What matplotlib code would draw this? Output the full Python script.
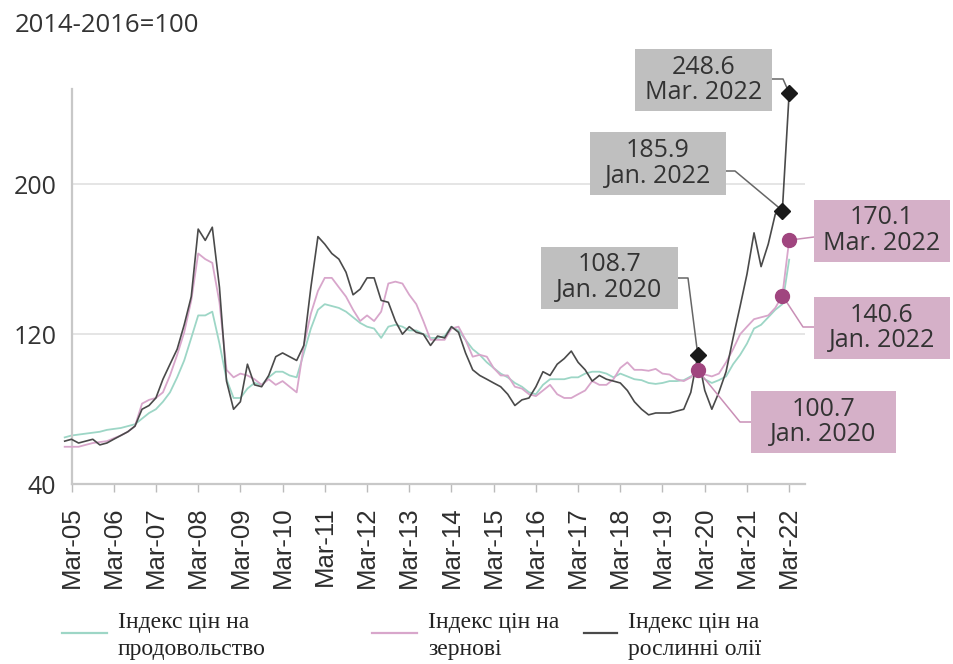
import numpy as np
import pandas as pd
import matplotlib
matplotlib.use("Agg")
import matplotlib.pyplot as plt
import matplotlib.dates as mdates
from matplotlib.lines import Line2D
from matplotlib.patches import Rectangle

# bi-monthly readings, Jan 2005 .. Mar 2022 (2014-2016 = 100)
dates = pd.date_range("2005-01-01", "2022-03-01", freq="2MS")

food = [65, 66, 66.5, 67, 67.5, 68,
        69, 69.5, 70, 71, 72, 75,
        78, 80, 84, 89, 97, 106,
        118, 130, 130, 132, 115, 96,
        86, 86, 91, 94, 93, 97,
        100, 100, 98, 97, 110, 123,
        133, 136, 135, 134, 132, 129,
        126, 124, 123, 118, 124, 125,
        124, 122, 122, 120, 118, 118,
        119, 124, 122, 117, 112, 109,
        105, 102, 99, 97, 94, 92,
        89, 88, 93, 96, 96, 96,
        97, 97, 99, 100, 100, 99,
        97, 99, 97.5, 96, 95.5, 94,
        93.5, 94, 95, 95, 95.5, 97.5,
        100, 96, 94, 95.5, 97.5, 104,
        109, 115, 123, 125, 129, 133,
        136, 159.7]

cereals = [60, 60, 60, 61, 62, 62.5,
           63, 64.5, 66, 68, 71, 83,
           85, 86, 89, 98, 109, 121,
           138, 163, 160, 158, 137, 101,
           97, 99, 98, 96, 93, 96,
           93, 95, 92, 89, 114, 131,
           143, 150, 150, 145, 140, 133,
           127, 130, 127, 132, 147, 148,
           147, 141, 136, 127, 117, 117,
           117, 123, 124, 117, 108, 109,
           108, 102, 98, 98, 92, 91,
           88, 87, 90, 93, 88, 86,
           86, 88, 90, 95, 93, 93,
           96, 102, 105, 101, 101, 100.5,
           101.5, 99, 98.5, 96, 95, 97,
           100.7, 98.5, 97.5, 99, 105, 112,
           120, 124, 128, 129, 130, 134,
           140.6, 170.1]

oils = [63, 64, 62, 63, 64, 61,
        62, 64, 66, 68, 71, 80,
        82, 86, 96, 104, 112, 125,
        140, 176, 170, 177, 145, 95,
        80, 84, 104, 93, 92, 98,
        108, 110, 108, 106, 114, 145,
        172, 168, 163, 160, 153, 141,
        144, 150, 150, 138, 137, 127,
        120, 124, 121, 120, 114, 119,
        118, 124, 121, 110, 101, 98,
        96, 94, 92, 88, 82, 85,
        86, 92, 100, 98, 104, 107,
        111, 105, 101, 95, 98, 96,
        95, 94, 90, 84, 80, 77,
        78, 78, 78, 79, 80, 89,
        108.7, 90, 80, 89, 100, 118,
        135, 152, 174, 156, 168, 184,
        185.9, 248.6]

tick_dates = pd.date_range("2005-03-01", "2022-03-01", freq="12MS")
tick_labels = [d.strftime("%b-%y") for d in tick_dates]
y_ticks = [40, 120, 200]

labels = ["Індекс цін на\nпродовольство", "Індекс цін на\nзернові", "Індекс цін на\nрослинні олії"]
colors = ["#9dd6c6", "#d8a6cb", "#4a4a4a"]

marked_dates = ["2020-01-01", "2022-01-01", "2022-03-01"]

W, H = 954, 664

def fx(x):
    return x / W

def fy(y):
    return 1 - y / H

fig = plt.figure(figsize=(9.54, 6.64), dpi=100)
fig.patch.set_facecolor("white")
ax = fig.add_axes([fx(62.5), fy(484.3), fx(805) - fx(62.5), fy(89.3) - fy(484.3)])
ax.patch.set_visible(False)

x0 = pd.Timestamp("2005-03-01")
xmin, xmax = pd.Timestamp("2004-12-13"), pd.Timestamp("2022-07-16")

ax.hlines(y_ticks[1:], x0, xmax, color="#dedede", lw=1.1, zorder=1)
ax.plot(dates, food, color=colors[0], lw=1.3, zorder=2)
ax.plot(dates, cereals, color=colors[1], lw=1.3, zorder=3)
ax.plot(dates, oils, color=colors[2], lw=1.2, zorder=4)

ax.set_xlim(xmin, xmax)
ax.set_ylim(40, 250.5)

for s in ["top", "right"]:
    ax.spines[s].set_visible(False)
ax.spines["left"].set_position(("data", mdates.date2num(x0)))
ax.spines["left"].set_color("#c8c8c8")
ax.spines["left"].set_linewidth(1.6)
ax.spines["bottom"].set_color("#c8c8c8")
ax.spines["bottom"].set_linewidth(1.6)
ax.spines["bottom"].set_bounds(mdates.date2num(x0), mdates.date2num(xmax))

ax.set_xticks(tick_dates)
ax.set_xticklabels(tick_labels, rotation=90, fontsize=18.5, family="Liberation Sans", color="#2e2e2e")
ax.set_yticks(y_ticks)
ax.set_yticklabels([str(v) for v in y_ticks], fontsize=18, family="Open Sans", color="#333333")
ax.tick_params(axis="x", length=6, width=1, color="#bbbbbb", pad=10)
ax.tick_params(axis="y", length=0, pad=11)

fig.text(fx(15), fy(26), "2014-2016=100", fontsize=18.5, family="Open Sans",
         color="#333333", ha="left", va="center")

# highlighted points
idx = [dates.get_loc(pd.Timestamp(d)) for d in marked_dates]
oil_pts = [(dates[i], oils[i]) for i in idx]
cer_pts = [(dates[i], cereals[i]) for i in idx]
ax.plot([p[0] for p in oil_pts], [p[1] for p in oil_pts], "D", color="#1a1a1a",
        ms=8, zorder=8, clip_on=False)
ax.plot([p[0] for p in cer_pts], [p[1] for p in cer_pts], "o", color="#a0457f",
        ms=10, zorder=8, clip_on=False)

# callout boxes: (centre x, centre y, width, height, elbow points) in reference pixels
oil_boxes = [(609.5, 277.5, 137, 62, [(678, 278), (688, 278)]),
             (658, 163.5, 136, 62, [(726, 171), (735, 171)]),
             (703.5, 80, 137, 62, [(772, 79), (783, 79)])]
cer_boxes = [(823.5, 422, 145, 62, [(751, 422), (740, 422)]),
             (882, 328, 136, 62, [(814, 327), (803, 327)]),
             (882, 230.5, 136, 62, [(814, 237)])]

fig.canvas.draw()

def callout(pt, box, fc, lc):
    cx, cy, w, h, elbow = box
    fig.add_artist(Rectangle((fx(cx - w / 2), fy(cy + h / 2)), w / W, h / H,
                             transform=fig.transFigure, fc=fc, ec="none", zorder=6))
    d, v = pt
    fig.text(fx(cx), fy(cy), f"{v:.1f}\n{d:%b}. {d:%Y}", ha="center", va="center",
             fontsize=18, family="Open Sans", color="#333333", linespacing=1.05, zorder=7)
    px, py = ax.transData.transform((mdates.date2num(d), v))
    xs = [fx(e[0]) for e in elbow] + [px / W]
    ys = [fy(e[1]) for e in elbow] + [py / H]
    ax.add_line(Line2D(xs, ys, transform=fig.transFigure, color=lc, lw=1.1,
                       clip_on=False, zorder=5))

for pt, box in zip(oil_pts, oil_boxes):
    callout(pt, box, "#bfbfbf", "#666666")
for pt, box in zip(cer_pts, cer_boxes):
    callout(pt, box, "#d5b0c8", "#c98fb6")

ax.set_xlim(xmin, xmax)
ax.set_ylim(40, 250.5)

# legend
leg_lines = [(62, 107, 118), (372, 417, 428), (584, 617, 628)]
for (a, b, tx), lab, c in zip(leg_lines, labels, colors):
    fig.add_artist(Line2D([fx(a), fx(b)], [fy(633), fy(633)], transform=fig.transFigure,
                          color=c, lw=1.6))
    fig.text(fx(tx), fy(636), lab, ha="left", va="center", fontsize=17,
             family="Liberation Serif", color="#222222", linespacing=1.35)

fig.savefig("out.png", dpi=100)
